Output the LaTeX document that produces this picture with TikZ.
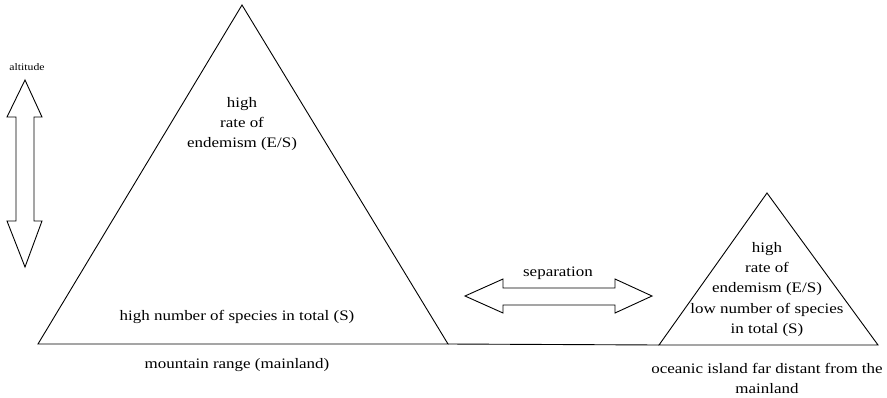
\documentclass[tikz,border=0pt]{standalone}
\usepackage{fontspec}
\setmainfont{Liberation Serif}[FakeStretch=1.17]
\usetikzlibrary{positioning}

\begin{document}
\begin{tikzpicture}[x=1pt, y=-1pt, line width=0.9pt,
  txt/.style={font=\fontsize{14.5}{20}\selectfont, align=center, anchor=base, inner sep=0pt}]
  \useasboundingbox (0,0) rectangle (887,397);
  % mountain and island
  \coordinate (mtop) at (242,5);
  \coordinate (mleft) at (38,344);
  \coordinate (mright) at (448,344);
  \coordinate (itop) at (767,193);
  \coordinate (ileft) at (659,345);
  \coordinate (iright) at (878,345);
  \draw (mleft) -- (mtop) -- (mright) -- cycle;
  \draw (ileft) -- (itop) -- (iright) -- cycle;
  \draw (mright) -- (ileft);
  % arrows
  \draw (25,80) -- (42,117) -- (34,117) -- (34,221) -- (42,221) -- (25,267)
    -- (7,221) -- (16,221) -- (16,117) -- (7,117) -- cycle;
  \draw (465,296) -- (503,279) -- (503,288) -- (615,288) -- (615,279) -- (652,296)
    -- (615,313) -- (615,305) -- (503,305) -- (503,313) -- cycle;
  % labels (base = last line)
  \node[txt, font=\fontsize{10}{12}\selectfont] (altitude) at (27,70) {altitude};
  \node[txt] (mendem) at (242,147) {high\\rate of\\endemism (E/S)};
  \node[txt] (mspecies) at (237,320) {high number of species in total (S)};
  \node[txt] (mname) at (237,368) {mountain range (mainland)};
  \node[txt] (separation) at (558,276) {separation};
  \node[txt] (iendem) at (767,292) {high\\rate of\\endemism (E/S)};
  \node[txt] (ispecies) at (767,333) {low number of species\\in total (S)};
  \node[txt] (iname) at (767,393) {oceanic island far distant from the\\mainland};
\end{tikzpicture}
\end{document}
